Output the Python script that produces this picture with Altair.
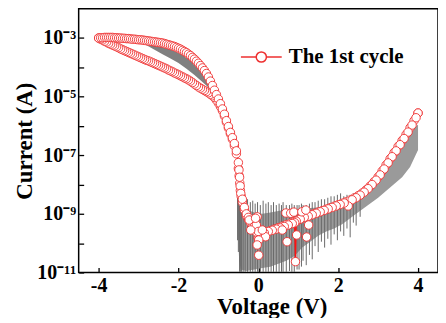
import altair as alt
import pandas as pd

# ---------------- data (log10 of current) ----------------
# 1st cycle, positive forward sweep 0 -> 4 V
pos_fwd_v = [0.0, 0.1, 0.2, 0.3, 0.4, 0.5, 0.6, 0.7, 0.8, 0.9, 1.0, 1.1, 1.2, 1.3, 1.4, 1.5, 1.6, 1.7, 1.8, 1.9,
             2.0, 2.1, 2.2, 2.3, 2.4, 2.5, 2.6, 2.7, 2.8, 2.9, 3.0, 3.1, 3.2, 3.3, 3.4, 3.5, 3.6, 3.7, 3.8, 3.9, 4.0]
pos_fwd_log = [-9.80, -9.70, -9.63, -9.57, -9.52, -9.47, -9.42, -9.37, -9.32, -9.26, -9.21, -9.15, -9.09, -9.04,
               -8.99, -8.94, -8.89, -8.84, -8.79, -8.74, -8.69, -8.64, -8.59, -8.53, -8.46, -8.38, -8.29, -8.18,
               -8.05, -7.90, -7.74, -7.54, -7.33, -7.12, -6.91, -6.70, -6.50, -6.29, -6.06, -5.82, -5.56]
# 1st cycle, positive reverse sweep 4 -> 0 V
pos_rev_v = [4.0, 3.95, 3.85, 3.75, 3.65, 3.55, 3.45, 3.35, 3.25, 3.15, 3.05, 2.95, 2.85, 2.75, 2.65, 2.55, 2.45,
             2.35, 2.25, 2.15, 2.05, 1.95, 1.85, 1.75, 1.65, 1.55, 1.45, 1.35, 1.25, 1.15, 1.05, 0.95, 0.93, 0.91,
             0.85, 0.75, 0.65, 0.55, 0.45, 0.35, 0.25, 0.15, 0.05, 0.0]
pos_rev_log = [-5.56, -5.72, -5.97, -6.21, -6.43, -6.64, -6.85, -7.05, -7.26, -7.47, -7.67, -7.85, -8.00, -8.14,
               -8.26, -8.36, -8.45, -8.52, -8.73, -8.63, -8.68, -8.73, -8.78, -8.83, -8.88, -8.93, -8.98, -9.03,
               -9.08, -9.12, -9.18, -9.25, -10.63, -9.30, -9.33, -9.38, -9.43, -9.48, -9.52, -9.56, -9.60, -9.65,
               -9.75, -9.85]
# 1st cycle, negative sweep 0 -> -4 V
neg_out_v = [0.0, -0.05, -0.1, -0.15, -0.2, -0.25, -0.3, -0.35, -0.4, -0.43, -0.45, -0.465, -0.48, -0.5, -0.55,
             -0.6, -0.65, -0.7, -0.75, -0.8, -0.85, -0.9, -0.95, -1.0, -1.05, -1.1, -1.15, -1.2, -1.25, -1.3,
             -1.35, -1.4, -1.45, -1.5, -1.55, -1.6, -1.65, -1.7, -1.75, -1.8, -1.85, -1.9, -1.95, -2.0, -2.05,
             -2.1, -2.15, -2.2, -2.25, -2.3, -2.35, -2.4, -2.45, -2.5, -2.55, -2.6, -2.65, -2.7, -2.75, -2.8,
             -2.85, -2.9, -2.95, -3.0, -3.05, -3.1, -3.15, -3.2, -3.25, -3.3, -3.35, -3.4, -3.45, -3.5, -3.55,
             -3.6, -3.65, -3.7, -3.75, -3.8, -3.85, -3.9, -3.95, -4.0]
neg_out_log = [-9.80, -9.62, -9.50, -9.42, -9.30, -9.18, -9.06, -8.86, -8.60, -8.40, -8.20, -7.95, -7.70, -7.45,
               -6.95, -6.68, -6.45, -6.27, -6.07, -5.87, -5.66, -5.48, -5.34, -5.22, -5.12, -5.03, -4.97, -4.92,
               -4.87, -4.83, -4.79, -4.75, -4.71, -4.67, -4.62, -4.57, -4.52, -4.47, -4.43, -4.39, -4.36, -4.32,
               -4.29, -4.25, -4.22, -4.19, -4.15, -4.12, -4.09, -4.05, -4.02, -3.99, -3.96, -3.93, -3.90, -3.87,
               -3.84, -3.81, -3.78, -3.76, -3.73, -3.70, -3.67, -3.64, -3.61, -3.58, -3.55, -3.52, -3.49, -3.46,
               -3.43, -3.40, -3.37, -3.33, -3.30, -3.27, -3.24, -3.21, -3.18, -3.14, -3.11, -3.07, -3.04, -3.00]
# 1st cycle, negative sweep -4 -> 0 V
neg_back_v = [-4.0, -3.95, -3.9, -3.85, -3.8, -3.75, -3.7, -3.65, -3.6, -3.55, -3.5, -3.45, -3.4, -3.35, -3.3,
              -3.25, -3.2, -3.15, -3.1, -3.05, -3.0, -2.95, -2.9, -2.85, -2.8, -2.75, -2.7, -2.65, -2.6, -2.55,
              -2.5, -2.45, -2.4, -2.35, -2.3, -2.25, -2.2, -2.15, -2.1, -2.05, -2.0, -1.95, -1.9, -1.85, -1.8,
              -1.75, -1.7, -1.65, -1.6, -1.55, -1.5, -1.45, -1.4, -1.35, -1.3, -1.25, -1.2, -1.15, -1.1, -1.05,
              -1.0, -0.95, -0.9, -0.85, -0.8, -0.75, -0.7, -0.65, -0.6, -0.55, -0.5, -0.485, -0.47, -0.455, -0.44,
              -0.4, -0.35, -0.3, -0.25, -0.2, -0.15, -0.1, -0.05, 0.0]
neg_back_log = [-3.00, -2.99, -2.99, -2.98, -2.98, -2.98, -2.98, -2.98, -2.99, -2.99, -3.00, -3.00, -3.01, -3.01,
                -3.02, -3.02, -3.03, -3.04, -3.04, -3.05, -3.06, -3.06, -3.07, -3.08, -3.09, -3.10, -3.11, -3.12,
                -3.13, -3.14, -3.15, -3.16, -3.17, -3.19, -3.21, -3.23, -3.25, -3.27, -3.29, -3.32, -3.35, -3.38,
                -3.42, -3.46, -3.50, -3.55, -3.60, -3.66, -3.72, -3.79, -3.86, -3.94, -4.02, -4.11, -4.21, -4.33,
                -4.47, -4.62, -4.78, -4.93, -5.08, -5.24, -5.42, -5.60, -5.82, -6.02, -6.22, -6.40, -6.60, -6.85,
                -7.25, -7.50, -7.75, -8.05, -8.30, -8.50, -8.78, -9.00, -9.12, -9.22, -9.35, -9.42, -9.38, -9.60]
# scattered 1st-cycle points in the noisy low-current region
noise_v = [0.69, 0.81, 0.89, 1.09, 1.19, 0.72, 0.60, 0.96, 1.21, 1.26, 0.18, 0.10, 0.01, 0.01, -0.19, -0.23,
           -0.03, -0.03, -0.07]
noise_log = [-8.97, -8.98, -8.94, -8.93, -8.87, -9.95, -9.55, -9.72, -9.79, -9.38, -9.78, -9.55, -10.41, -9.89,
             -9.55, -9.21, -9.10, -10.06, -9.15]

# other cycles (grey): band inside the negative loop, under the upper branch
loop_v = [-3.0, -2.8, -2.6, -2.4, -2.2, -2.0, -1.8, -1.6, -1.4, -1.2, -1.05]
loop_hi = [-3.08, -3.10, -3.14, -3.19, -3.27, -3.37, -3.52, -3.74, -4.04, -4.50, -4.95]
loop_lo = [-3.12, -3.25, -3.40, -3.55, -3.70, -3.85, -4.05, -4.26, -4.50, -4.75, -5.00]
# other cycles (grey): low-current / positive band
band_v = [-0.52, -0.48, -0.44, -0.3, -0.1, 0.1, 0.3, 0.5, 0.7, 0.9, 1.1, 1.3, 1.5, 1.7, 1.9, 2.1, 2.4, 2.7, 3.0,
          3.3, 3.6, 3.8, 4.0]
band_hi = [-8.40, -8.55, -8.70, -8.85, -8.95, -9.00, -8.95, -8.90, -8.85, -8.85, -8.80, -8.80, -8.78, -8.72,
           -8.67, -8.62, -8.52, -8.25, -7.82, -7.20, -6.60, -6.20, -5.95]
band_lo = [-9.40, -10.60, -10.90, -10.95, -10.90, -10.85, -10.80, -10.70, -10.60, -10.45, -10.15, -9.95, -9.75,
           -9.60, -9.50, -9.35, -9.05, -8.75, -8.45, -8.10, -7.75, -7.40, -6.82]
# other cycles (grey): individual noise spikes
spike_v = [-0.52, -0.5, -0.47, -0.45, -0.42, -0.38, -0.33, -0.27, -0.2, -0.14, -0.08, -0.02, 0.05, 0.12, 0.19,
           0.25, 0.32, 0.38, 0.45, 0.52, 0.58, 0.62, 0.7, 0.78, 0.84, 0.9, 0.97, 1.02, 1.08, 1.12, 1.2, 1.28,
           1.35, 1.42, 1.5, 1.58, 1.66, 1.74, 1.82, 1.9, 1.98, 2.06, 2.14, 2.22, 2.3, 2.38, 2.45, 2.55]
spike_hi = [-8.2, -8.3, -8.35, -8.4, -8.5, -8.45, -8.6, -8.5, -8.6, -8.55, -8.65, -8.6, -8.7, -8.55, -8.65,
            -8.6, -8.7, -8.6, -8.7, -8.65, -8.7, -8.6, -8.7, -8.7, -8.65, -8.7, -8.7, -8.7, -8.65, -8.7, -8.7,
            -8.65, -8.6, -8.6, -8.55, -8.5, -8.5, -8.45, -8.4, -8.4, -8.35, -8.3, -8.4, -8.35, -8.35, -8.3, -8.3,
            -8.2]
spike_lo = [-9.9, -10.3, -10.98, -10.98, -10.98, -10.98, -10.98, -10.98, -10.98, -10.98, -10.98, -10.98, -10.98,
            -10.98, -10.98, -10.98, -10.98, -10.98, -10.98, -10.98, -10.98, -10.98, -10.98, -10.95, -10.98, -10.98,
            -10.9, -10.9, -10.8, -10.6, -10.75, -10.4, -10.55, -10.1, -10.3, -9.95, -10.15, -9.85, -10.05, -9.7,
            -9.9, -9.6, -9.75, -9.5, -9.8, -9.3, -9.4, -9.1]

x_ticks = [-4, -2, 0, 2, 4]
y_tick_exps = [-11, -10, -9, -8, -7, -6, -5, -4, -3]
y_label_exps = [-11, -9, -7, -5, -3]
y_labels = ["10\u207b\u00b9\u00b9", "10\u207b\u2079", "10\u207b\u2077", "10\u207b\u2075", "10\u207b\u00b3"]
series_name = "The 1st cycle"

# ---------------- tables ----------------
rows = []
idx = 0
for vs, ls in [(pos_fwd_v, pos_fwd_log), (pos_rev_v, pos_rev_log), (neg_out_v, neg_out_log),
               (neg_back_v, neg_back_log)]:
    for v, l in zip(vs, ls):
        rows.append({"V": v, "I": 10 ** l, "idx": idx, "series": series_name})
        idx += 1
curve = pd.DataFrame(rows)
noise = pd.DataFrame({"V": noise_v, "I": [10 ** l for l in noise_log], "series": series_name})
pts = pd.concat([curve, noise.assign(idx=range(idx, idx + len(noise)))], ignore_index=True)

loop = pd.DataFrame({"V": loop_v, "hi": [10 ** l for l in loop_hi], "lo": [10 ** l for l in loop_lo]})
band = pd.DataFrame({"V": band_v, "hi": [10 ** l for l in band_hi], "lo": [10 ** l for l in band_lo]})
spikes = pd.DataFrame({"V": spike_v, "hi": [10 ** l for l in spike_hi], "lo": [10 ** l for l in spike_lo]})

FONT = "Liberation Serif"
RED = "#ee3030"
GREY = "#9a9a9a"

xscale = alt.Scale(domain=[-4.5, 4.5], nice=False)
yscale = alt.Scale(type="log", domain=[1e-11, 1e-2], nice=False)

label_expr = " : ".join(
    f"round(log(datum.value)/LN10) == {e} ? '{t}'" for e, t in zip(y_label_exps, y_labels)) + " : ''"

xaxis = alt.Axis(values=x_ticks, title="Voltage (V)", labelExpr="'' + datum.value", titleX=194,
                 titlePadding=0, labelPadding=3)
yaxis = alt.Axis(values=[10.0 ** e for e in y_tick_exps], title="Current (A)", labelExpr=label_expr,
                 titlePadding=0, labelPadding=3)

X = alt.X("V:Q", scale=xscale, axis=xaxis)
Y = alt.Y("I:Q", scale=yscale, axis=yaxis)

loop_layer = alt.Chart(loop).mark_area(color="#808080", clip=True).encode(
    x=alt.X("V:Q", scale=xscale), y=alt.Y("hi:Q", scale=yscale), y2="lo:Q")
band_layer = alt.Chart(band).mark_area(color=GREY, clip=True).encode(
    x=alt.X("V:Q", scale=xscale), y=alt.Y("hi:Q", scale=yscale), y2="lo:Q")
spike_layer = alt.Chart(spikes).mark_rule(color="#6a6a6a", strokeWidth=1, clip=True).encode(
    x=alt.X("V:Q", scale=xscale), y=alt.Y("hi:Q", scale=yscale), y2="lo:Q")

line_layer = alt.Chart(curve).mark_line(color="#ff1010", strokeWidth=1.3, clip=True).encode(
    x=X, y=Y, order="idx:Q")

legend_path = ("M-1,0L-0.25,0M0.25,0L1,0M0.25,0A0.25,0.25,0,1,1,-0.25,0A0.25,0.25,0,1,1,0.25,0")
pt_layer = alt.Chart(pts).mark_point(shape="circle", size=72, fill="white", fillOpacity=1, opacity=1,
                                     strokeWidth=0.9, clip=True).encode(
    x=X, y=Y, order="idx:Q",
    stroke=alt.Stroke("series:N", scale=alt.Scale(domain=[series_name], range=[RED]),
                      legend=alt.Legend(title=None, orient="none", legendX=162, legendY=27, padding=0,
                                        symbolType=legend_path, symbolSize=1681, symbolStrokeWidth=1.5,
                                        symbolFillColor="white", labelFont=FONT, labelFontWeight="bold",
                                        labelFontSize=21, labelColor="black", labelOffset=6)))

chart = alt.layer(loop_layer, band_layer, spike_layer, line_layer, pt_layer).properties(
    width=361, height=265,
    background="white",
    autosize=alt.AutoSizeParams(type="none"),
    padding={"left": 71, "top": 0, "right": 0, "bottom": 45},
).configure_view(stroke="black", strokeWidth=1.5).configure_axis(
    labelFont=FONT, labelFontWeight="bold", labelFontSize=20, labelColor="black",
    titleFont=FONT, titleFontWeight="bold", titleFontSize=23, titleColor="black",
    domain=False, tickColor="black", tickWidth=1.3, tickSize=5, offset=-5, grid=False,
)

chart.save("out.html", embed_options={"renderer": "svg", "actions": False})
